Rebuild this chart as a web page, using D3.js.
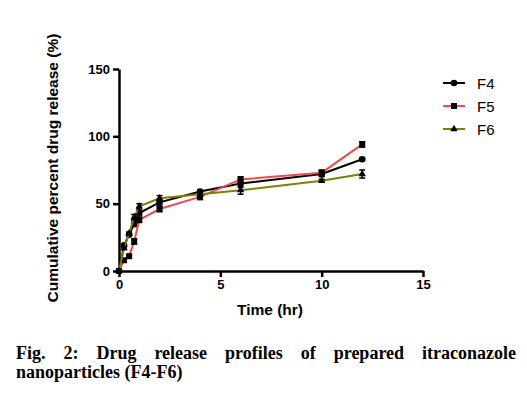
<!DOCTYPE html>
<html>
<head>
<meta charset="utf-8">
<script src="https://cdn.jsdelivr.net/npm/d3@7"></script>
<style>
  body { margin: 0; background: white; }
</style>
</head>
<body>
<div id="viz"></div>
<script>
// data
var times = [0, 0.25, 0.5, 0.75, 1, 2, 4, 6, 10, 12];
var f4 = [0, 19, 27, 35, 43, 51, 59, 65, 72, 83];
var f5 = [0, 8, 11, 22, 38, 46, 55, 68, 73, 94];
var f6 = [0, 17, 28, 40, 48, 54, 57, 60, 67, 72];
var f4_err = [0, 1, 1, 2, 2, 2, 1, 3, 2, 1];
var f5_err = [0, 1, 1, 2, 2, 2, 2, 2, 2, 2];
var f6_err = [0, 1, 1, 2, 2, 2, 1, 3, 1, 3];
var series_names = ['F4', 'F5', 'F6'];
var series_colors = ['#000000', '#f04a4a', '#808000'];
var x_ticks = [0, 5, 10, 15];
var y_ticks = [0, 50, 100, 150];

var W = 527, H = 394;
var margin = {top: 69, left: 119};
var width = 304, height = 202;

var svg = d3.select('#viz').append('svg')
    .attr('width', W)
    .attr('height', H);

var g = svg.append('g')
    .attr('transform', 'translate(' + margin.left + ',' + margin.top + ')');

var x = d3.scaleLinear().domain([0, 15]).range([0, width]);
var y = d3.scaleLinear().domain([0, 150]).range([height, 0]);

// axes
var x_axis = g.append('g')
    .attr('transform', 'translate(0,' + height + ')')
    .call(d3.axisBottom(x).tickValues(x_ticks).tickSize(6).tickSizeOuter(0).tickPadding(3));
var y_axis = g.append('g')
    .call(d3.axisLeft(y).tickValues(y_ticks).tickSize(6).tickSizeOuter(0).tickPadding(3));
[x_axis, y_axis].forEach(function(a) {
  a.select('.domain').attr('stroke', '#000').attr('stroke-width', 2.5);
  a.selectAll('line').attr('stroke', '#000').attr('stroke-width', 2.5);
  a.selectAll('text')
    .attr('fill', '#000')
    .style('font-family', 'Liberation Sans, Arial, sans-serif')
    .style('font-weight', 'bold')
    .style('font-size', '13px');
});

// axis labels
svg.append('text')
  .attr('x', 270)
  .attr('y', 315)
  .attr('text-anchor', 'middle')
  .style('font-family', 'Liberation Sans, Arial, sans-serif')
  .style('font-weight', 'bold')
  .style('font-size', '15.5px')
  .text('Time (hr)');

svg.append('text')
  .attr('transform', 'translate(58,168) rotate(-90)')
  .attr('text-anchor', 'middle')
  .style('font-family', 'Liberation Sans, Arial, sans-serif')
  .style('font-weight', 'bold')
  .style('font-size', '15.5px')
  .text('Cumulative percent drug release (%)');

var all_series = [f4, f5, f6];
var all_err = [f4_err, f5_err, f6_err];

var line = d3.line()
    .x(function(d) { return x(d[0]); })
    .y(function(d) { return y(d[1]); });

function marker(sel, i, cx, cy) {
  if (i == 0) {
    sel.append('circle').attr('cx', cx).attr('cy', cy).attr('r', 3.3)
      .attr('fill', '#000');
  } else if (i == 1) {
    sel.append('rect').attr('x', cx - 3).attr('y', cy - 3)
      .attr('width', 6).attr('height', 6).attr('fill', '#000');
  } else {
    sel.append('path')
      .attr('d', d3.symbol().type(d3.symbolTriangle).size(24)())
      .attr('transform', 'translate(' + cx + ',' + cy + ')')
      .attr('fill', '#000');
  }
}

all_series.forEach(function(vals, i) {
  var pts = times.map(function(t, j) { return [t, vals[j]]; });
  var sg = g.append('g');
  sg.append('path')
    .datum(pts)
    .attr('fill', 'none')
    .attr('stroke', series_colors[i])
    .attr('stroke-width', 2)
    .attr('d', line);
  // error bars
  pts.forEach(function(p, j) {
    var e = all_err[i][j];
    if (e > 0) {
      var cx = x(p[0]);
      sg.append('line').attr('x1', cx).attr('x2', cx)
        .attr('y1', y(p[1] - e)).attr('y2', y(p[1] + e))
        .attr('stroke', '#000').attr('stroke-width', 1.5);
      [p[1] - e, p[1] + e].forEach(function(v) {
        sg.append('line').attr('x1', cx - 3).attr('x2', cx + 3)
          .attr('y1', y(v)).attr('y2', y(v))
          .attr('stroke', '#000').attr('stroke-width', 1.5);
      });
    }
    marker(sg, i, x(p[0]), y(p[1]));
  });
});

// legend
series_names.forEach(function(name, i) {
  var ly = 83 + i * 23;
  svg.append('line')
    .attr('x1', 443).attr('x2', 465)
    .attr('y1', ly).attr('y2', ly)
    .attr('stroke', series_colors[i])
    .attr('stroke-width', 2);
  marker(svg, i, 454, ly);
  svg.append('text')
    .attr('x', 477)
    .attr('y', ly + 5.5)
    .style('font-family', 'Liberation Sans, Arial, sans-serif')
    .style('font-size', '15px')
    .text(name);
});

// caption, first line justified
var cap1 = ['Fig.', '2:', 'Drug', 'release', 'profiles', 'of', 'prepared', 'itraconazole'];
var cap_left = 16, cap_right = 516;
var cap_style = function(t) {
  t.style('font-family', 'Liberation Serif, Times New Roman, serif')
   .style('font-weight', 'bold')
   .style('font-size', '18px')
   .attr('fill', '#000');
};
var words = cap1.map(function(w) {
  var t = svg.append('text').attr('y', 359).text(w).call(cap_style);
  return t;
});
var total = d3.sum(words, function(t) { return t.node().getComputedTextLength(); });
var gap = (cap_right - cap_left - total) / (words.length - 1);
var cx = cap_left;
words.forEach(function(t) {
  t.attr('x', cx);
  cx += t.node().getComputedTextLength() + gap;
});
svg.append('text')
  .attr('x', cap_left)
  .attr('y', 378)
  .text('nanoparticles (F4-F6)')
  .call(cap_style);
</script>
</body>
</html>
